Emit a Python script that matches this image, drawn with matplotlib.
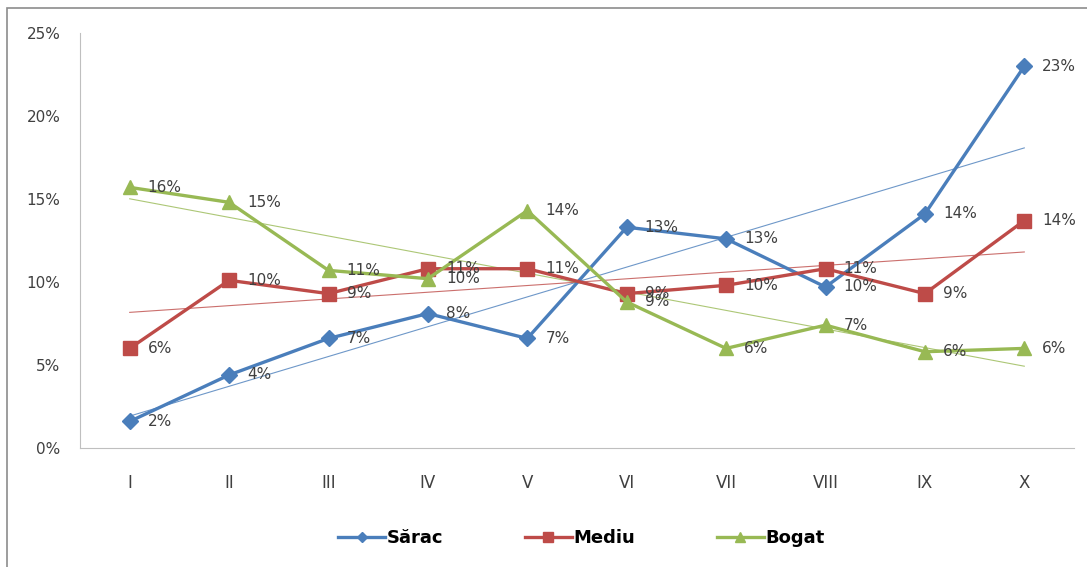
import numpy as np
import matplotlib
matplotlib.use("Agg")
import matplotlib.pyplot as plt
from matplotlib.patches import Rectangle

# Date (proportii)
categorii = ["I", "II", "III", "IV", "V", "VI", "VII", "VIII", "IX", "X"]
sarac = [0.016, 0.044, 0.066, 0.081, 0.066, 0.133, 0.126, 0.097, 0.141, 0.230]
mediu = [0.060, 0.101, 0.093, 0.108, 0.108, 0.093, 0.098, 0.108, 0.093, 0.137]
bogat = [0.157, 0.148, 0.107, 0.102, 0.143, 0.088, 0.060, 0.074, 0.058, 0.060]
y_ticks = [0, 0.05, 0.10, 0.15, 0.20, 0.25]

serii = [
    ("Sărac", sarac, "#4A7EBB", "D", 8),
    ("Mediu", mediu, "#BE4B48", "s", 10),
    ("Bogat", bogat, "#98B954", "^", 10),
]

fig = plt.figure(figsize=(10.87, 5.67), dpi=100)
ax = fig.add_axes([80 / 1087, 1 - 448 / 567, 994 / 1087, 415 / 567])

# chenarul graficului
fig.patches.append(Rectangle((7 / 1087, -0.05), 1.1, 1 - 8 / 567 + 0.05,
                             transform=fig.transFigure, fill=False,
                             edgecolor="#8c8c8c", linewidth=1.2))

x = np.arange(len(categorii))
for nume, vals, col, mk, ms in serii:
    ax.plot(x, vals, color=col, marker=mk, markersize=ms, linewidth=2.4,
            label=nume, zorder=3)
    # linie de tendinta
    p = np.polyfit(x, vals, 1)
    ax.plot(x, np.polyval(p, x), color=col, linewidth=0.8, alpha=0.8, zorder=2)
    for xi, v in zip(x, vals):
        ax.annotate(f"{v:.0%}", (xi, v), xytext=(13, 0), textcoords="offset points",
                    ha="left", va="center", fontsize=11, color="#404040", zorder=4)

ax.set_xlim(-0.5, len(categorii) - 0.5)
ax.set_ylim(0, 0.25)
ax.set_xticks(x)
ax.set_xticklabels(categorii, fontsize=12, color="#404040")
ax.set_yticks(y_ticks)
ax.set_yticklabels([f"{t:.0%}" for t in y_ticks], fontsize=11, color="#404040")
ax.tick_params(length=0)
ax.tick_params(axis="x", pad=19)
ax.tick_params(axis="y", pad=14)
for s in ["top", "right"]:
    ax.spines[s].set_visible(False)
for s in ["left", "bottom"]:
    ax.spines[s].set_color("#bfbfbf")

fig.legend(loc="center", bbox_to_anchor=(0.535, 1 - 538 / 567), ncol=3,
           frameon=False, prop={"weight": "bold", "size": 13},
           columnspacing=4.5, handlelength=2.6, handletextpad=0.1,
           markerscale=0.7)

fig.savefig("out.png", dpi=100)
